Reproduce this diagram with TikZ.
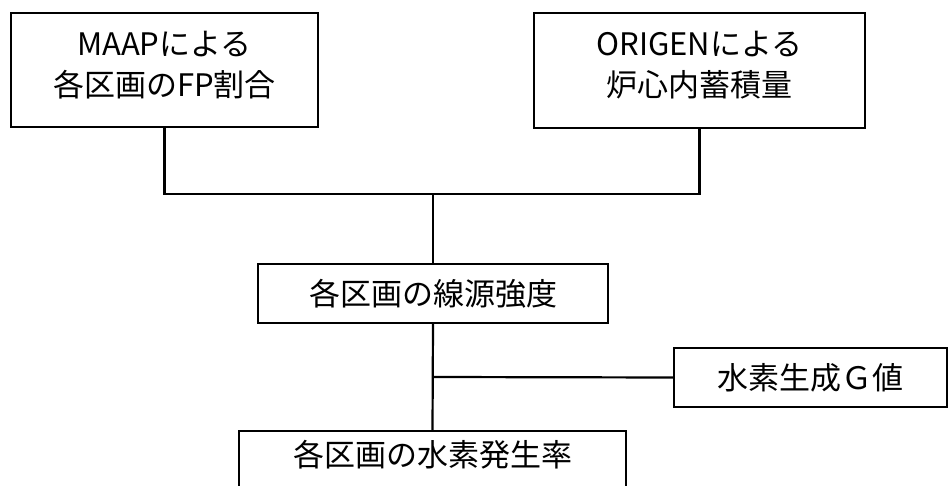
\documentclass[tikz,border=0pt]{standalone}
\usepackage{fontspec}
\setmainfont{Noto Sans CJK JP}
\usetikzlibrary{positioning}

\begin{document}
\begin{tikzpicture}[x=0.5pt,y=-0.5pt,font=\fontsize{15.5}{20.5}\selectfont,
  box/.style={draw=black,line width=0.75pt,inner sep=0pt,align=center,fill=white},
  link/.style={draw=black,line width=1.1pt}]
  \useasboundingbox (0,0) rectangle (949,486);
  \node[box,minimum width=153.5pt,minimum height=57pt,text depth=6.5pt] (maap) at (164.5,70) {MAAPによる\\各区画のFP割合};
  \node[box,minimum width=165.5pt,minimum height=57.5pt,text depth=6.5pt] (origen) at (699.5,70.5) {ORIGENによる\\炉心内蓄積量};
  \node[box,minimum width=175pt,minimum height=29.5pt] (source) at (433,293.5) {各区画の線源強度};
  \node[box,minimum width=136.5pt,minimum height=29.5pt] (gval) at (810.5,377.5) {水素生成Ｇ値};
  \node[box,minimum width=193.5pt,minimum height=29.5pt,text depth=7pt] (rate) at (432.5,460.5) {各区画の水素発生率};
  \coordinate (top) at (433,194);
  \coordinate (mid) at (433,377);
  \draw[link] (maap.south) |- (top) -| (origen.south);
  \foreach \x/\y in {top/source.north,source.south/rate.north,mid/gval.west} \draw[link] (\x) -- (\y);
\end{tikzpicture}
\end{document}
